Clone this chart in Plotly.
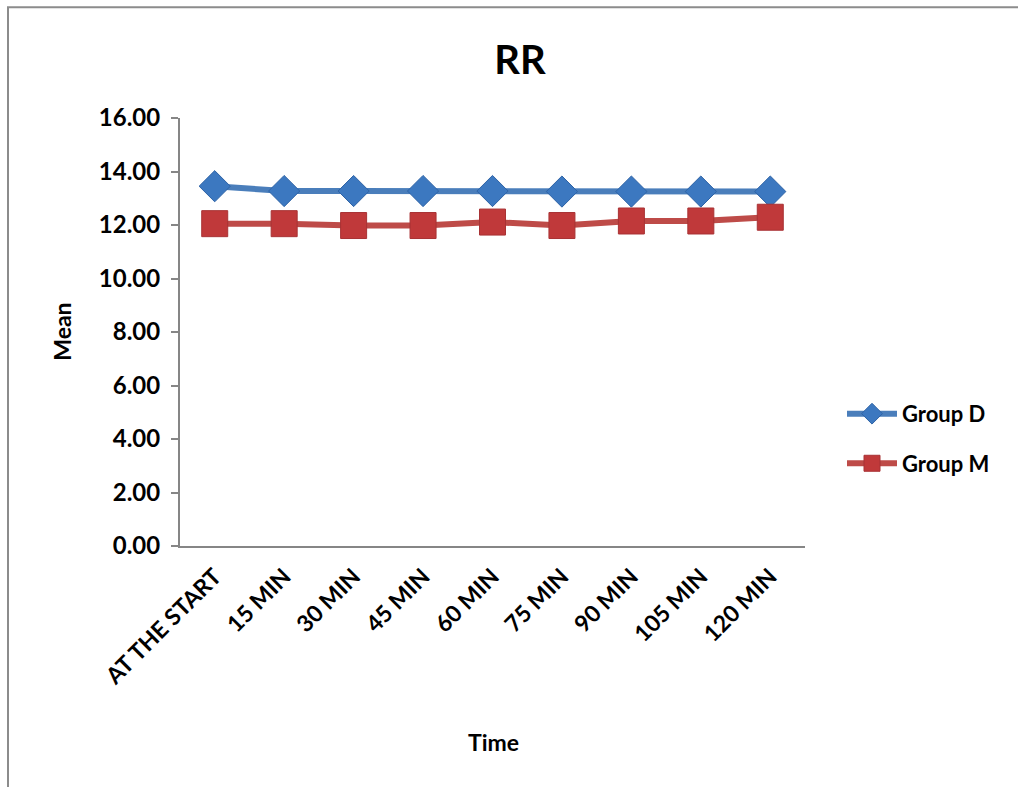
import plotly.graph_objects as go

categories = ["AT THE START", "15 MIN", "30 MIN", "45 MIN", "60 MIN",
              "75 MIN", "90 MIN", "105 MIN", "120 MIN"]
group_d = [13.45, 13.27, 13.27, 13.27, 13.27, 13.25, 13.25, 13.25, 13.25]
group_m = [12.05, 12.05, 11.98, 11.98, 12.11, 11.98, 12.15, 12.15, 12.29]
y_ticks = [0, 2, 4, 6, 8, 10, 12, 14, 16]

FONT = "Lato"
BLUE = "#4A7EBB"
RED = "#BE4B48"

fig = go.Figure()
fig.add_trace(go.Scatter(
    x=categories, y=group_d, name="Group D", mode="lines+markers",
    legendgroup="d",
    line=dict(color=BLUE, width=6),
    marker=dict(symbol="diamond", size=24, color="#3C78C0",
                line=dict(color="#2E63A6", width=1))))
fig.add_trace(go.Scatter(
    x=categories, y=group_m, name="Group M", mode="lines+markers",
    legendgroup="m",
    line=dict(color=RED, width=6),
    marker=dict(symbol="square", size=26, color="#C0393A",
                line=dict(color="#A83234", width=1))))

fig.update_layout(
    width=1018, height=787,
    margin=dict(l=180, r=213, t=118, b=241),
    paper_bgcolor="white", plot_bgcolor="white",
    font=dict(family=FONT, color="black"),
    title=dict(text="<b>RR</b>", x=520 / 1018, xanchor="center",
               y=1 - 60 / 787, yanchor="middle",
               font=dict(size=40, family=FONT, color="black")),
    showlegend=True,
    legend=dict(x=(842 - 180) / 625, y=(546 - 439) / 427.5, xanchor="left", yanchor="middle",
                font=dict(size=22, family=FONT, color="black", weight="bold"),
                traceorder="grouped",
                tracegroupgap=18, itemwidth=50, bgcolor="rgba(0,0,0,0)"),
    xaxis=dict(type="category", showgrid=False, showline=True,
               linecolor="#868686", linewidth=2, ticks="",
               tickangle=-45, ticklabelstandoff=6,
               tickfont=dict(size=23, family=FONT, color="black", weight="bold"),
               range=[-0.5, len(categories) - 0.5]),
    yaxis=dict(range=[0, 16], tickvals=y_ticks,
               ticktext=[f"{v:.2f}" for v in y_ticks],
               showgrid=False, showline=True, linecolor="#868686", linewidth=2,
               ticks="outside", ticklen=7, tickcolor="#868686", tickwidth=2,
               zeroline=False, ticklabelstandoff=6,
               tickfont=dict(size=24, family=FONT, color="black", weight="bold")),
    annotations=[
        dict(text="<b>Time</b>", xref="paper", yref="paper",
             x=(493 - 180) / 625, y=(546 - 742) / 427.5, xanchor="center",
             yanchor="middle", showarrow=False,
             font=dict(size=23, family=FONT, color="black")),
        dict(text="<b>Mean</b>", xref="paper", yref="paper",
             x=(62 - 180) / 625, y=(546 - 332) / 427.5, xanchor="center",
             yanchor="middle", showarrow=False, textangle=-90,
             font=dict(size=23, family=FONT, color="black")),
    ],
    shapes=[dict(type="rect", xref="paper", yref="paper",
                 x0=(8 - 180) / 625, x1=(1030 - 180) / 625,
                 y0=(546 - 800) / 427.5, y1=(546 - 8) / 427.5,
                 line=dict(color="#8C8C8C", width=2), layer="below")],
)

fig.write_html("out.html")
